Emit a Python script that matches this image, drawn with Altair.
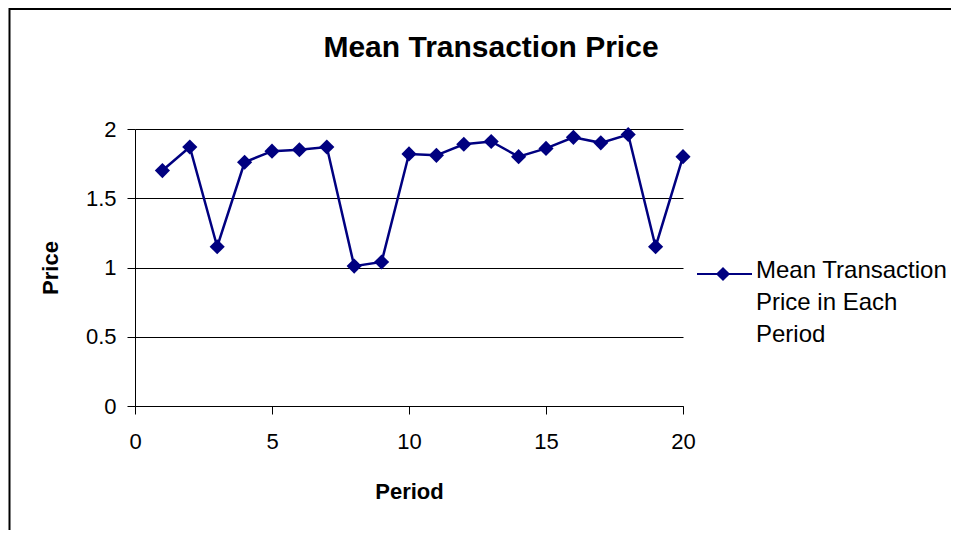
import altair as alt
import pandas as pd

# ---- data ----
PERIODS = list(range(1, 21))
PRICES = [1.70, 1.87, 1.15, 1.76, 1.84, 1.85, 1.87, 1.01, 1.04, 1.82,
          1.81, 1.89, 1.91, 1.80, 1.86, 1.94, 1.90, 1.96, 1.15, 1.80]
X_TICKS = [0, 5, 10, 15, 20]
Y_TICKS = [0, 0.5, 1, 1.5, 2]
TITLE = "Mean Transaction Price"
X_TITLE = "Period"
Y_TITLE = "Price"
LEGEND_LINES = ["Mean Transaction", "Price in Each", "Period"]

# ---- styling / layout ----
W, H = 548, 277
FONT = "Liberation Sans"
NAVY = "#000080"

df = pd.DataFrame({"Period": PERIODS, "Price": PRICES})

x_enc = alt.X(
    "Period:Q",
    scale=alt.Scale(domain=[0, 20], nice=False, zero=False),
    axis=alt.Axis(
        values=X_TICKS, title=X_TITLE, grid=False, tickSize=8,
        labelPadding=17, labelFontSize=22, labelFont=FONT, labelColor="black",
        domainColor="black", tickColor="black", labelFlush=False,
        titleFont=FONT, titleFontSize=22, titleFontWeight="bold", titleColor="black",
        titleX=W / 2, titleY=85, titleBaseline="middle", titleAlign="center",
    ),
)
y_enc = alt.Y(
    "Price:Q",
    scale=alt.Scale(domain=[0, 2], nice=False),
    axis=alt.Axis(
        values=Y_TICKS, format="~g", title=Y_TITLE, grid=True, gridColor="black",
        gridWidth=1, gridOpacity=1, tickSize=8, labelPadding=11, labelFontSize=22,
        labelFont=FONT, labelColor="black", domainColor="black", tickColor="black",
        labelFlush=False,
        titleFont=FONT, titleFontSize=22, titleFontWeight="bold", titleColor="black",
        titleX=-85, titleY=H / 2, titleBaseline="middle", titleAlign="center", titleAngle=270,
    ),
)

line = alt.Chart(df).mark_line(color=NAVY, strokeWidth=2.5).encode(x=x_enc, y=y_enc)
pts = alt.Chart(df).mark_point(
    shape="diamond", filled=True, color=NAVY, size=230, opacity=1
).encode(x="Period:Q", y="Price:Q")

one = alt.Data(values=[{"k": 1}])

border = alt.Chart(one).mark_rect(
    fillOpacity=0, stroke="black", strokeWidth=2
).encode(
    x=alt.value(-125.5), x2=alt.value(W + 400),
    y=alt.value(-120), y2=alt.value(H + 300),
)

title = alt.Chart(one).mark_text(
    text=TITLE, font=FONT, fontSize=30, fontWeight="bold", color="black",
    align="center", baseline="alphabetic",
).encode(x=alt.value(356), y=alt.value(-72))

leg_line = alt.Chart(one).mark_rule(color=NAVY, strokeWidth=2).encode(
    x=alt.value(562), x2=alt.value(617), y=alt.value(145)
)
leg_pt = alt.Chart(one).mark_point(
    shape="diamond", filled=True, color=NAVY, size=200, opacity=1
).encode(x=alt.value(588), y=alt.value(145))
leg_text = alt.Chart(one).mark_text(
    text=LEGEND_LINES, font=FONT, fontSize=24, color="black",
    align="left", baseline="top", lineHeight=32,
).encode(x=alt.value(621), y=alt.value(130))

chart = alt.layer(border, title, line, pts, leg_line, leg_pt, leg_text).properties(
    width=W, height=H,
    autosize=alt.AutoSizeParams(type="none"),
    padding={"left": 127, "top": 121, "right": 268, "bottom": 124},
    background="white",
).configure_view(stroke=None)

chart.save("out.html", embed_options={"renderer": "svg", "actions": False})
